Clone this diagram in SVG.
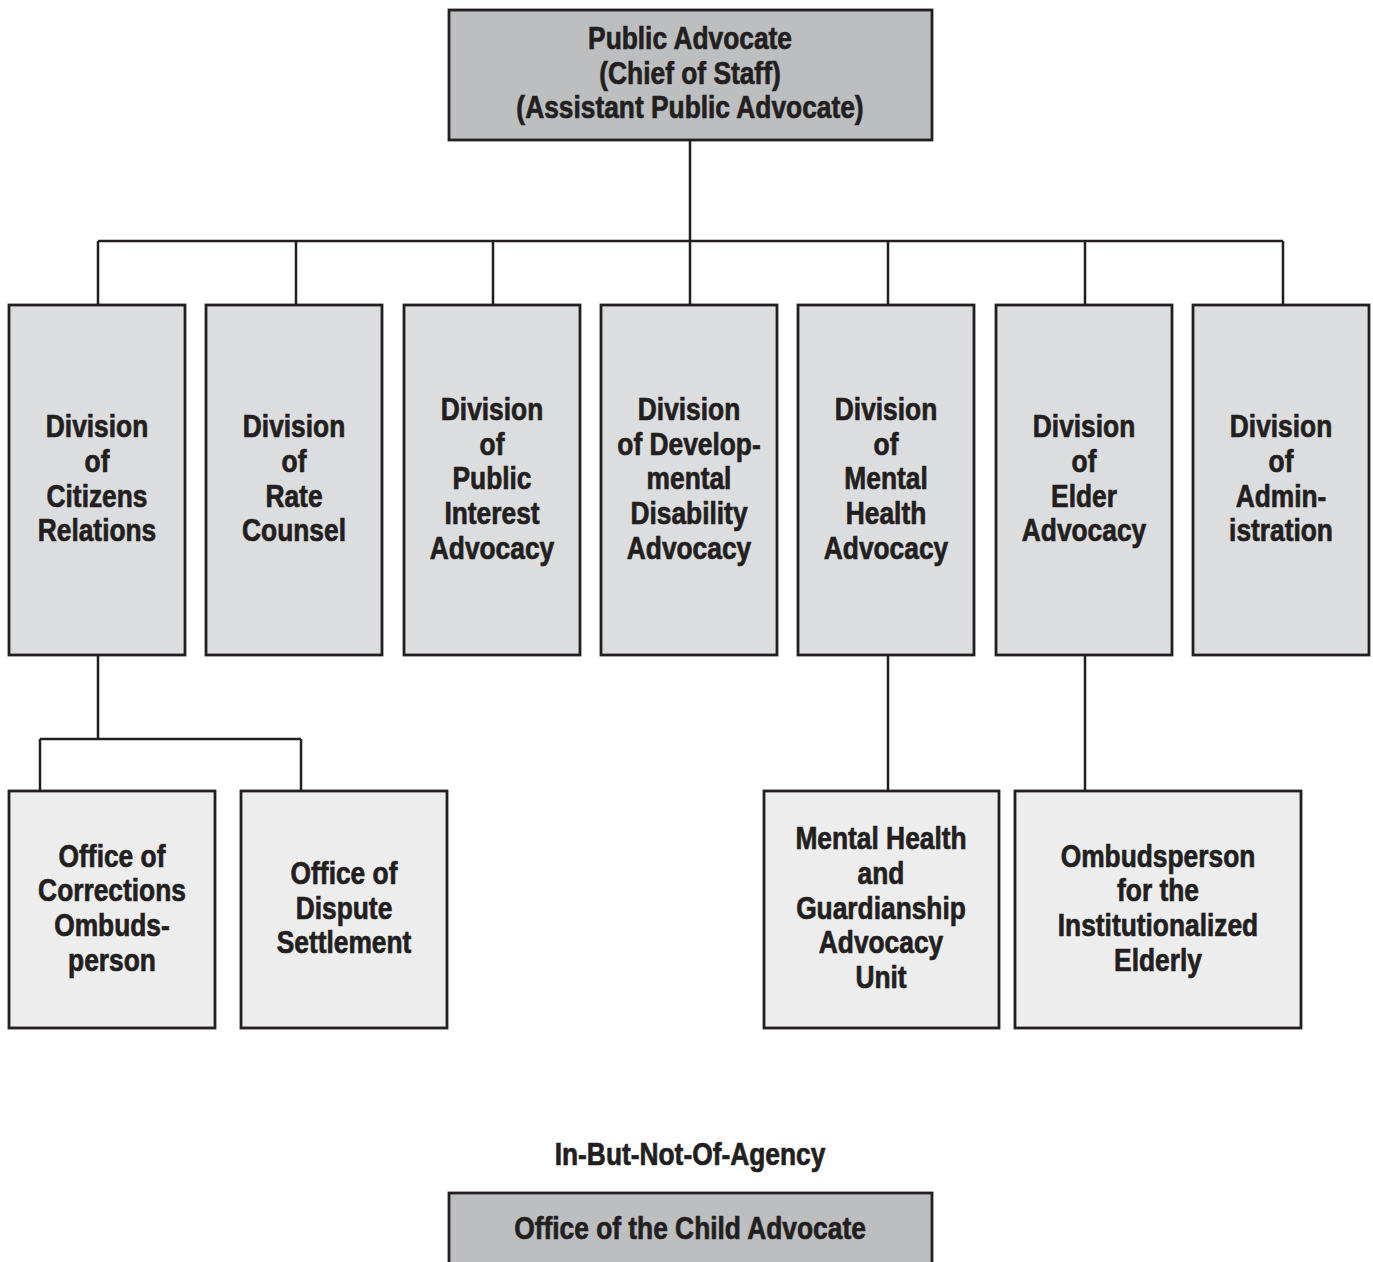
<svg xmlns="http://www.w3.org/2000/svg" width="1373" height="1262" viewBox="0 0 1373 1262">
<style>
.box{stroke:#231f20;stroke-width:2.8}
.top{fill:#bcbec0}
.div{fill:#dcdddf}
.sub{fill:#ededee}
.ln{fill:none;stroke:#231f20;stroke-width:2.5}
text{font-family:"Liberation Sans",Arial,sans-serif;font-weight:bold;font-size:31px;fill:#231f20;stroke:#231f20;stroke-width:0.7;text-anchor:middle}
</style>
<rect width="1373" height="1262" fill="#ffffff"/>
<g id="connectors">
<path class="ln" d="M690 140V241M98 241H1283M98 241V305M296 241V305M493 241V305M690 241V305M888 241V305M1085 241V305M1283 241V305"/>
<path class="ln" d="M98 655V739M40 739H301M40 739V791M301 739V791"/>
<path class="ln" d="M888 655V791M1085 655V791"/>
</g>
<g id="public-advocate">
<rect class="box top" x="449" y="10" width="483" height="130"/>
<g transform="translate(690 0) scale(0.85 1)">
<text x="0" y="49">Public Advocate</text>
<text x="0" y="84">(Chief of Staff)</text>
<text x="0" y="118">(Assistant Public Advocate)</text>
</g>
</g>
<g id="div-citizens">
<rect class="box div" x="9" y="305" width="176" height="350"/>
<g transform="translate(97 0) scale(0.85 1)">
<text x="0" y="437">Division</text><text x="0" y="472">of</text><text x="0" y="507">Citizens</text><text x="0" y="541">Relations</text>
</g>
</g>
<g id="div-rate">
<rect class="box div" x="206" y="305" width="176" height="350"/>
<g transform="translate(294 0) scale(0.85 1)">
<text x="0" y="437">Division</text><text x="0" y="472">of</text><text x="0" y="507">Rate</text><text x="0" y="541">Counsel</text>
</g>
</g>
<g id="div-public-interest">
<rect class="box div" x="404" y="305" width="176" height="350"/>
<g transform="translate(492 0) scale(0.85 1)">
<text x="0" y="420">Division</text><text x="0" y="455">of</text><text x="0" y="489">Public</text><text x="0" y="524">Interest</text><text x="0" y="559">Advocacy</text>
</g>
</g>
<g id="div-developmental">
<rect class="box div" x="601" y="305" width="176" height="350"/>
<g transform="translate(689 0) scale(0.85 1)">
<text x="0" y="420">Division</text><text x="0" y="455">of Develop-</text><text x="0" y="489">mental</text><text x="0" y="524">Disability</text><text x="0" y="559">Advocacy</text>
</g>
</g>
<g id="div-mental-health">
<rect class="box div" x="798" y="305" width="176" height="350"/>
<g transform="translate(886 0) scale(0.85 1)">
<text x="0" y="420">Division</text><text x="0" y="455">of</text><text x="0" y="489">Mental</text><text x="0" y="524">Health</text><text x="0" y="559">Advocacy</text>
</g>
</g>
<g id="div-elder">
<rect class="box div" x="996" y="305" width="176" height="350"/>
<g transform="translate(1084 0) scale(0.85 1)">
<text x="0" y="437">Division</text><text x="0" y="472">of</text><text x="0" y="507">Elder</text><text x="0" y="541">Advocacy</text>
</g>
</g>
<g id="div-administration">
<rect class="box div" x="1193" y="305" width="176" height="350"/>
<g transform="translate(1281 0) scale(0.85 1)">
<text x="0" y="437">Division</text><text x="0" y="472">of</text><text x="0" y="507">Admin-</text><text x="0" y="541">istration</text>
</g>
</g>
<g id="office-corrections">
<rect class="box sub" x="9" y="791" width="206" height="237"/>
<g transform="translate(112 0) scale(0.85 1)">
<text x="0" y="867">Office of</text><text x="0" y="901">Corrections</text><text x="0" y="936">Ombuds-</text><text x="0" y="971">person</text>
</g>
</g>
<g id="office-dispute">
<rect class="box sub" x="241" y="791" width="206" height="237"/>
<g transform="translate(344 0) scale(0.85 1)">
<text x="0" y="884">Office of</text><text x="0" y="919">Dispute</text><text x="0" y="953">Settlement</text>
</g>
</g>
<g id="mental-health-unit">
<rect class="box sub" x="764" y="791" width="235" height="237"/>
<g transform="translate(881 0) scale(0.85 1)">
<text x="0" y="849">Mental Health</text><text x="0" y="884">and</text><text x="0" y="919">Guardianship</text><text x="0" y="953">Advocacy</text><text x="0" y="988">Unit</text>
</g>
</g>
<g id="ombudsperson-elderly">
<rect class="box sub" x="1015" y="791" width="286" height="237"/>
<g transform="translate(1158 0) scale(0.85 1)">
<text x="0" y="867">Ombudsperson</text><text x="0" y="901">for the</text><text x="0" y="936">Institutionalized</text><text x="0" y="971">Elderly</text>
</g>
</g>
<g id="in-but-not-of-agency">
<g transform="translate(690 0) scale(0.85 1)">
<text x="0" y="1165">In-But-Not-Of-Agency</text>
</g>
</g>
<g id="child-advocate">
<rect class="box top" x="449" y="1193" width="483" height="90"/>
<g transform="translate(690 0) scale(0.85 1)">
<text x="0" y="1239">Office of the Child Advocate</text>
</g>
</g>
</svg>
